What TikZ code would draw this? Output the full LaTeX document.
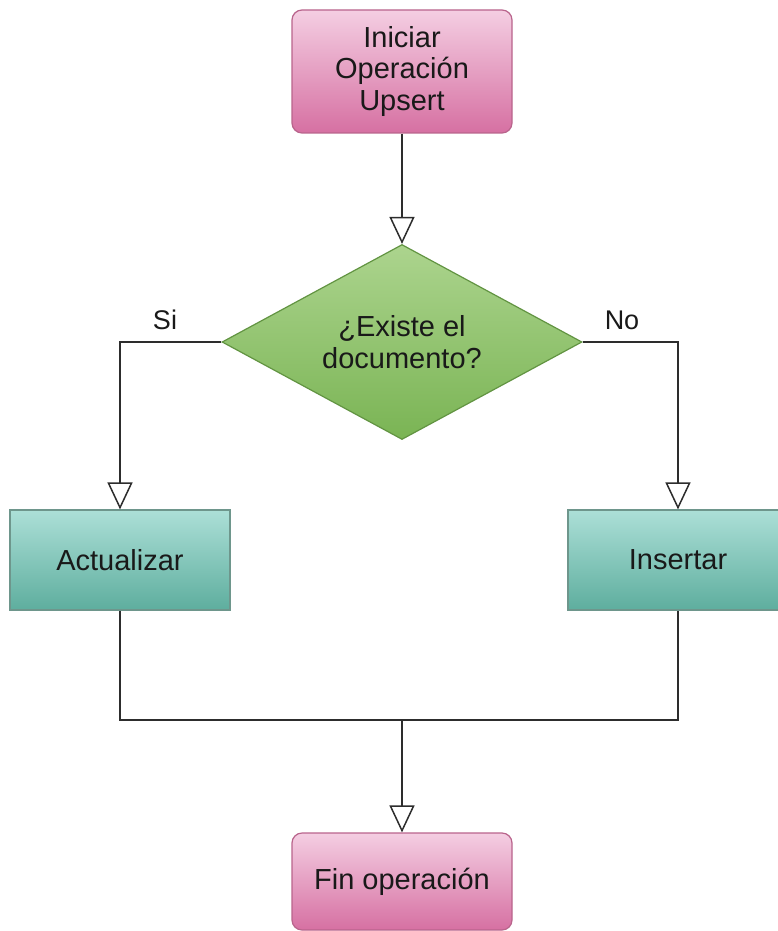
\documentclass[tikz,border=0pt]{standalone}
\usepackage{fontspec}
\setmainfont{Liberation Sans}
\usetikzlibrary{shapes.geometric,arrows.meta}
\definecolor{pinktop}{RGB}{244,206,226}
\definecolor{pinkbot}{RGB}{214,112,162}
\definecolor{pinkline}{RGB}{185,100,140}
\definecolor{teallight}{RGB}{172,223,215}
\definecolor{tealdark}{RGB}{94,174,158}
\definecolor{tealline}{RGB}{110,150,140}
\definecolor{greentop}{RGB}{172,212,142}
\definecolor{greenbot}{RGB}{122,180,84}
\definecolor{greenline}{RGB}{98,148,66}
\definecolor{wire}{RGB}{45,45,45}
\definecolor{ink}{RGB}{25,25,25}
\tikzset{
  x=1pt, y=-1pt,
  every node/.style={font=\fontsize{29}{31.5}\selectfont, text=ink},
  terminal/.style={draw=pinkline, line width=1.2pt, rounded corners=10pt,
    top color=pinktop, bottom color=pinkbot, minimum width=220pt,
    align=center, inner sep=0pt},
  process/.style={draw=tealline, line width=1.2pt,
    top color=teallight, bottom color=tealdark, minimum width=220pt,
    minimum height=100pt, inner sep=0pt},
  decision/.style={diamond, draw=greenline, line width=1.2pt,
    top color=greentop, bottom color=greenbot, aspect=1.846,
    minimum width=360pt, minimum height=195pt, inner sep=0pt, align=center},
  wireline/.style={draw=wire, line width=1.5pt},
  flow/.style={wireline, -{Triangle[open, length=27pt, width=25pt, fill=white, line width=1.5pt]}},
  branch/.style={font=\fontsize{27}{30}\selectfont}
}
\begin{document}
\begin{tikzpicture}
\useasboundingbox (0,0) rectangle (778,931);
\fill[white] (0,0) rectangle (778,931);

% nodes
\node[terminal, minimum height=123pt] (start) at (402,71.5) {Iniciar\\Operación\\Upsert};
\node[decision] (ask) at (402,342) {¿Existe el\\documento?};
\node[process] (upd) at (120,560) {Actualizar};
\node[process] (ins) at (678,560) {Insertar};
\node[terminal, minimum height=97pt] (done) at (402,881.5) {Fin operación};

% branch labels
\node[branch] (yes) at (165,320) {Si};
\node[branch] (no) at (622,320) {No};

% connectors
\draw[flow] (start.south) -- (ask.north);
\draw[flow] (ask.west) -| (upd.north);
\draw[flow] (ask.east) -| (ins.north);
\coordinate (join) at (402,720);
\draw[wireline] (upd.south) |- (join) -| (ins.south);
\draw[flow] (join) -- (done.north);
\end{tikzpicture}
\end{document}
